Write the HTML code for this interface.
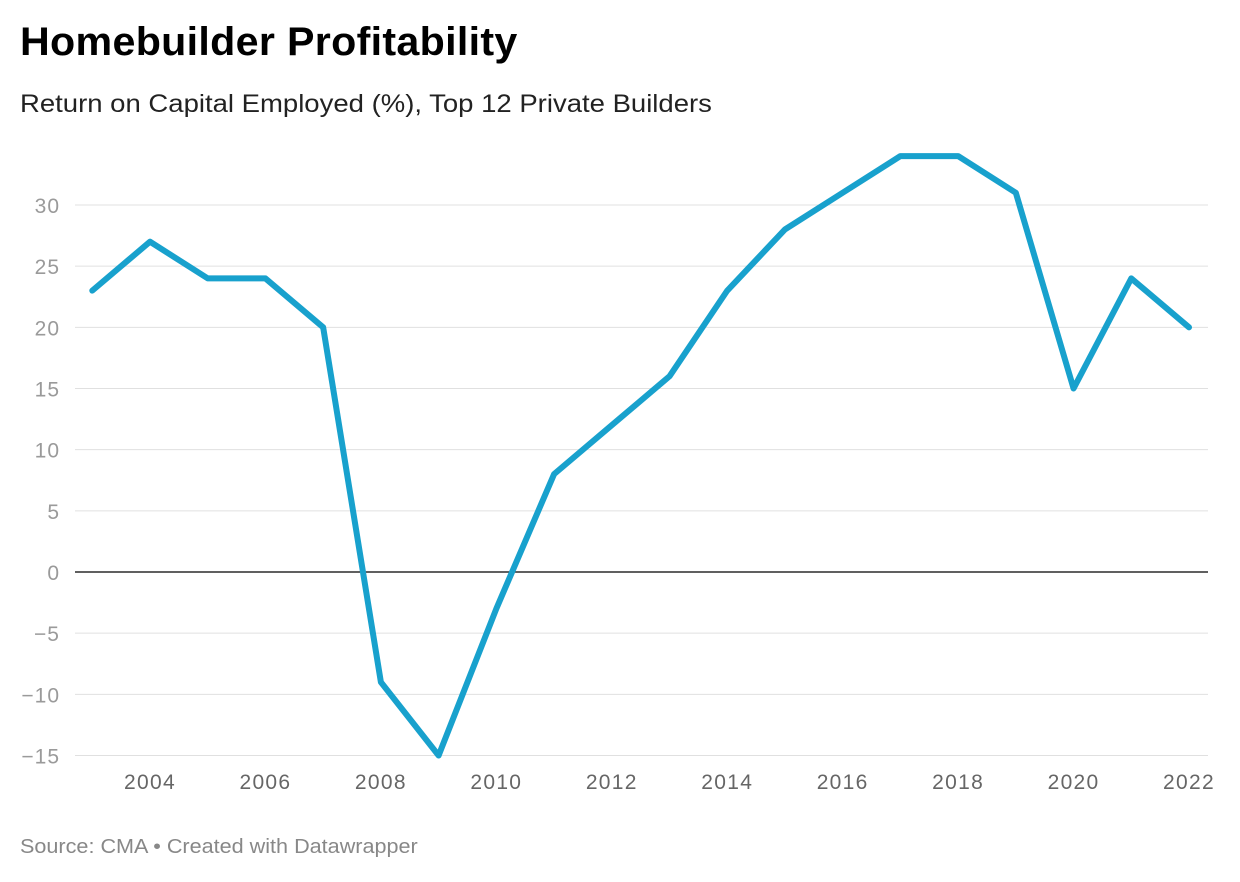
<!DOCTYPE html>
<html><head><meta charset="utf-8"><style>
body{margin:0;background:#fff;font-family:"Liberation Sans",Arial,sans-serif;}
#wrap{position:relative;width:1240px;height:882px;overflow:hidden;}
h1{position:absolute;left:20px;top:20px;margin:0;font-size:40px;font-weight:bold;color:#000;letter-spacing:0.3px;transform:scaleX(1.03);transform-origin:left top;}
.sub{position:absolute;left:20px;top:90px;font-size:25px;color:#222;transform:scaleX(1.1);transform-origin:left top;}
.src{position:absolute;left:20px;top:836px;font-size:20px;color:#888;transform:scaleX(1.08);transform-origin:left top;}
svg{position:absolute;left:0;top:0;}
</style></head><body>
<div id="wrap">
<h1>Homebuilder Profitability</h1>
<div class="sub">Return on Capital Employed (%), Top 12 Private Builders</div>
<svg id="chart" width="1240" height="882"></svg>
<div class="src">Source: CMA • Created with Datawrapper</div>
</div>
<script>
const years=[2003,2004,2005,2006,2007,2008,2009,2010,2011,2012,2013,2014,2015,2016,2017,2018,2019,2020,2021,2022];
const roce=[23,27,24,24,20,-9,-15,-3,8,12,16,23,28,31,34,34,31,15,24,20];
const yTicks=[30,25,20,15,10,5,0,-5,-10,-15];
const xTicks=[2004,2006,2008,2010,2012,2014,2016,2018,2020,2022];
const ns="http://www.w3.org/2000/svg";
const svg=document.getElementById('chart');
const x=v=>150+(v-2004)*(1189-150)/18;
const y=v=>572-v*(572-205)/30;
function mk(t,a){const e=document.createElementNS(ns,t);for(const k in a)e.setAttribute(k,a[k]);svg.appendChild(e);return e;}
yTicks.forEach(t=>{
 const l=mk('line',{x1:75,x2:1208,y1:y(t),y2:y(t),stroke:t===0?'#000':'#e0e0e0','stroke-width':t===0?1.3:1});
 
 
 const tx=mk('text',{x:60,y:y(t)+8,'text-anchor':'end','font-size':21,'letter-spacing':1,fill:'#9a9a9a','font-family':'Liberation Sans, sans-serif'});
 tx.textContent=t<0?'\u2212'+Math.abs(t):String(t);
 
 
});
xTicks.forEach(t=>{
 const tx=mk('text',{x:x(t),y:789,'text-anchor':'middle','font-size':21,'letter-spacing':1.3,fill:'#666','font-family':'Liberation Sans, sans-serif'});
 tx.textContent=t;
 
 
});
const p=mk('polyline',{points:years.map((yr,i)=>x(yr)+','+y(roce[i])).join(' '),fill:'none',stroke:'#18a1cd','stroke-width':6,'stroke-linejoin':'round','stroke-linecap':'round'});


</script>
</body></html>
